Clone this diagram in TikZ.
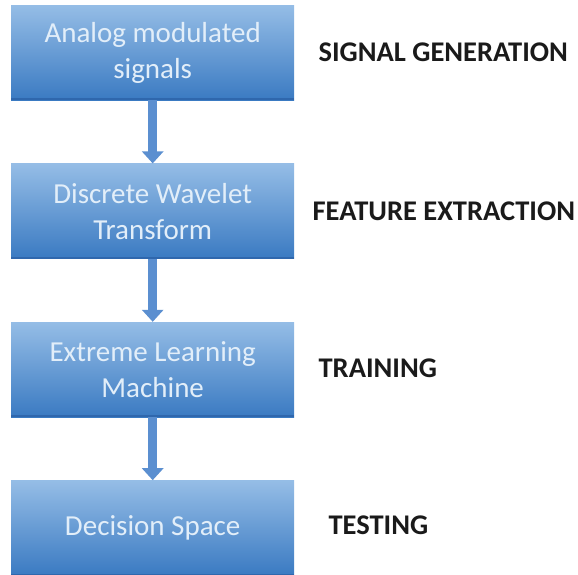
\documentclass[tikz,border=0pt]{standalone}
\usepackage{fontspec}
\setmainfont{Carlito}
\usetikzlibrary{positioning,arrows.meta}

\definecolor{boxtop}{HTML}{95BDE6}
\definecolor{boxbot}{HTML}{3A7AC2}
\definecolor{boxedge}{HTML}{2F67AD}
\definecolor{boxtext}{HTML}{E2EEF9}
\definecolor{arrowblue}{HTML}{5B8FD0}
\definecolor{labeltext}{HTML}{1A1A1A}

\tikzset{
  stage/.style={rectangle, minimum width=283pt, minimum height=95pt, inner sep=0pt,
    top color=boxtop, bottom color=boxbot, text=boxtext, align=center,
    font=\fontsize{29}{36}\selectfont},
  phase/.style={anchor=west, inner sep=0pt, text=labeltext, font=\fontsize{28.5}{32}\selectfont\bfseries},
  flow/.style={arrowblue, line width=9pt, -{Triangle[width=21pt,length=12pt]}},
  baseline edge/.style={boxedge, line width=2pt}
}

\begin{document}
\begin{tikzpicture}[node distance=63pt]
    \useasboundingbox (0,0) rectangle (578pt,-574pt);

    % process boxes
    \node[stage, anchor=north west] (gen) at (11pt,-5pt) {Analog modulated\\signals};
    \node[stage, below=of gen] (dwt) {Discrete Wavelet\\Transform};
    \node[stage, below=of dwt] (elm) {Extreme Learning\\Machine};
    \node[stage, below=of elm] (dec) {Decision Space};

    \foreach \n in {gen,dwt,elm,dec}
      \draw[baseline edge] ([yshift=1pt]\n.south west) -- ([yshift=1pt]\n.south east);

    % connectors
    \draw[flow] (gen) -- (dwt);
    \draw[flow] (dwt) -- (elm);
    \draw[flow] (elm) -- (dec);

    % stage labels
    \node[phase] (lgen) at ([xshift=24pt]gen.east) {SIGNAL GENERATION};
    \node[phase] (ldwt) at ([xshift=18pt]dwt.east) {FEATURE EXTRACTION};
    \node[phase] (lelm) at ([xshift=24pt,yshift=1pt]elm.east) {TRAINING};
    \node[phase] (ldec) at ([xshift=34pt,yshift=3pt]dec.east) {TESTING};
\end{tikzpicture}
\end{document}
